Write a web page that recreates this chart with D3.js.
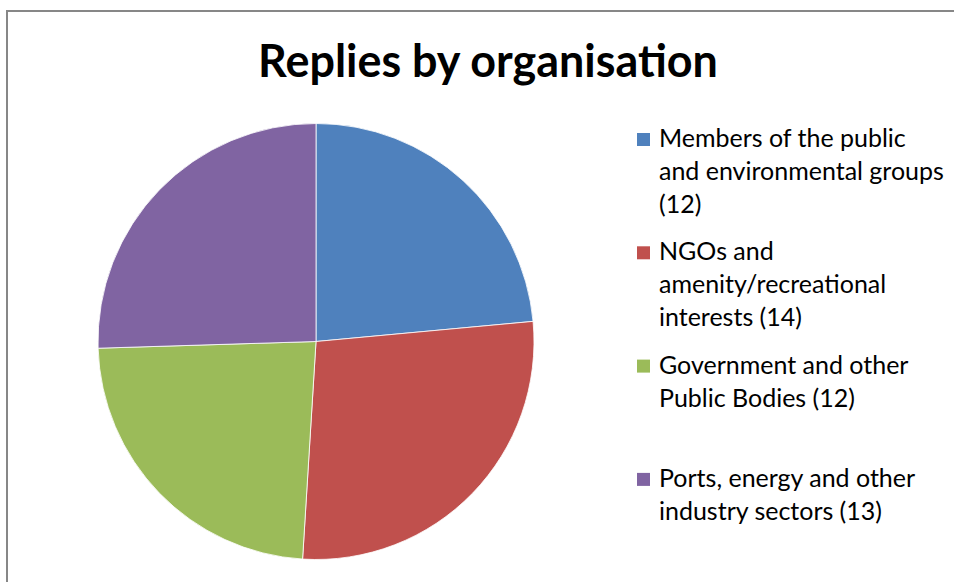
<!DOCTYPE html>
<html>
<head>
<meta charset="utf-8">
<title>Replies by organisation</title>
<style>
  body { margin: 0; background: #fff; }
  text { font-family: Lato, "Open Sans", sans-serif; fill: #000; }
  .title { font-weight: bold; }
  .slice { stroke: #fff; stroke-width: 0.8px; }
</style>
</head>
<body>
<div id="chart"></div>
<script src="https://d3js.org/d3.v7.min.js"></script>
<script>
// data
var categories = [
  ["Members of the public", "and environmental groups", "(12)"],
  ["NGOs and", "amenity/recreational", "interests (14)"],
  ["Government and other", "Public Bodies (12)"],
  ["Ports, energy and other", "industry sectors (13)"]
];
var values = [12, 14, 12, 13];
var colours = ["#4F81BD", "#C0504D", "#9BBB59", "#8064A2"];

var width = 954, height = 582;
var cx = 316, cy = 341.5, radius = 218;

var svg = d3.select("#chart").append("svg")
    .attr("width", width)
    .attr("height", height);

// chart frame
svg.append("rect")
    .attr("x", 7).attr("y", 11)
    .attr("width", 980).attr("height", 620)
    .attr("fill", "#fff")
    .attr("stroke", "#878787")
    .attr("stroke-width", 2);

// title, sized to the width it takes in the original
var title = svg.append("text")
    .attr("class", "title")
    .attr("x", 488).attr("y", 77)
    .attr("text-anchor", "middle")
    .style("font-size", "40px")
    .text("Replies by organisation");
var tw = title.node().getComputedTextLength();
title.style("font-size", (40 * 460 / tw) + "px");

// pie
var pie = d3.pie().sort(null).value(function(d) { return d; });
var arc = d3.arc().innerRadius(0).outerRadius(radius);
var colour = d3.scaleOrdinal().domain(d3.range(values.length)).range(colours);

svg.append("g")
    .attr("transform", "translate(" + cx + "," + cy + ")")
  .selectAll("path")
  .data(pie(values))
  .enter().append("path")
    .attr("class", "slice")
    .attr("d", arc)
    .attr("fill", function(d, i) { return colour(i); });

// legend
var legendX = 637, legendY = 147, slot = 113.3, lineH = 33;
var legend = svg.append("g");

var entries = legend.selectAll("g.entry")
  .data(categories)
  .enter().append("g")
    .attr("class", "entry")
    .attr("transform", function(d, i) { return "translate(" + legendX + "," + (legendY + i * slot) + ")"; });

entries.append("rect")
    .attr("x", 0).attr("y", -14)
    .attr("width", 13).attr("height", 13)
    .attr("fill", function(d, i) { return colour(i); });

var labels = entries.append("text")
    .attr("x", 22)
    .style("font-size", "22px");

labels.selectAll("tspan")
  .data(function(d) { return d; })
  .enter().append("tspan")
    .attr("x", 22)
    .attr("y", function(d, j) { return j * lineH; })
    .text(function(d) { return d; });

// fit legend font to the widest line (~285px in the original)
var widest = labels.filter(function(d, i) { return i === 0; })
    .selectAll("tspan").filter(function(d, j) { return j === 1; }).node();
var lw = widest.getComputedTextLength();
labels.style("font-size", (22 * 285 / lw) + "px").style("fill", "#000");
</script>
</body>
</html>
